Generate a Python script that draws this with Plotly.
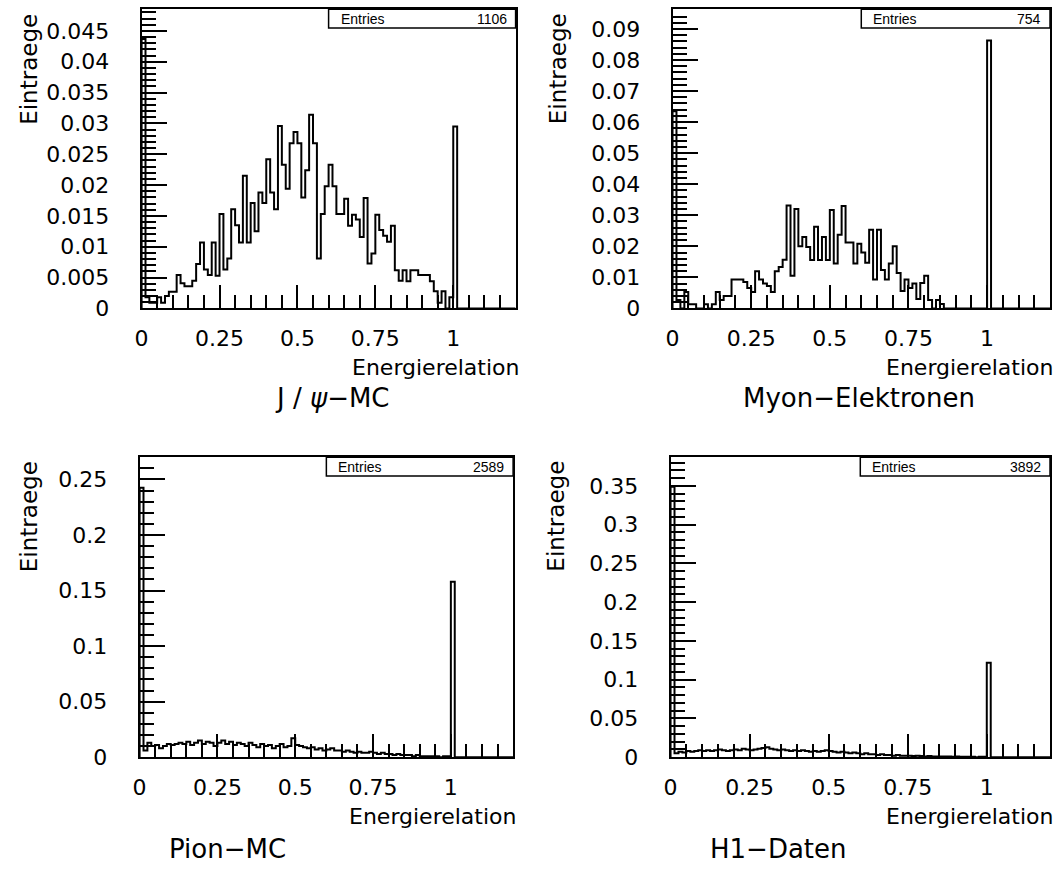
import numpy as np
import plotly.graph_objects as go

# Histogram binning: 96 bins on [0, 1.2]
n_bins = 96
x_lo, x_hi = 0.0, 1.2

titles = ["J / <i>\u03c8</i>\u2212MC", "Myon\u2212Elektronen", "Pion\u2212MC", "H1\u2212Daten"]
entries = [1106, 754, 2589, 3892]

jpsi_mc = [
    0.0437, 0.0018, 0.0009, 0.0009, 0.0018, 0.0009, 0.0020, 0.0027, 0.0027, 0.0054,
    0.0041, 0.0036, 0.0036, 0.0045, 0.0072, 0.0107, 0.0063, 0.0054, 0.0107, 0.0053,
    0.0153, 0.0063, 0.0081, 0.0161, 0.0135, 0.0107, 0.0215, 0.0107, 0.0171, 0.0125,
    0.0188, 0.0171, 0.0242, 0.0188, 0.0161, 0.0296, 0.0233, 0.0194, 0.0268, 0.0286,
    0.0268, 0.0180, 0.0224, 0.0314, 0.0268, 0.0081, 0.0153, 0.0198, 0.0233, 0.0198,
    0.0153, 0.0153, 0.0178, 0.0134, 0.0152, 0.0144, 0.0116, 0.0179, 0.0073, 0.0089,
    0.0152, 0.0127, 0.0118, 0.0108, 0.0134, 0.0062, 0.0045, 0.0062, 0.0044, 0.0062,
    0.0062, 0.0054, 0.0054, 0.0054, 0.0044, 0.0028, 0.0009, 0.0028, 0.0, 0.0018,
    0.0295,
]

myon_elektronen = [
    0.0635, 0.0027, 0.0, 0.0053, 0.0013, 0.0013, 0.0, 0.0, 0.0013, 0.0,
    0.0013, 0.0053, 0.0027, 0.0040, 0.0040, 0.0093, 0.0093, 0.0093, 0.0085, 0.0066,
    0.0053, 0.0120, 0.0093, 0.0080, 0.0072, 0.0053, 0.0120, 0.0133, 0.0157, 0.0331,
    0.0105, 0.0320, 0.0200, 0.0230, 0.0198, 0.0156, 0.0263, 0.0156, 0.0230, 0.0156,
    0.0317, 0.0145, 0.0237, 0.0330, 0.0212, 0.0212, 0.0145, 0.0208, 0.0180, 0.0147,
    0.0253, 0.0093, 0.0253, 0.0124, 0.0093, 0.0145, 0.0200, 0.0114, 0.0056, 0.0093,
    0.0066, 0.0080, 0.0030, 0.0082, 0.0105, 0.0027, 0.0, 0.0027, 0.0014, 0.0,
    0.0, 0.0, 0.0, 0.0, 0.0, 0.0, 0.0, 0.0, 0.0, 0.0,
    0.0863,
]

pion_mc = [
    0.2425, 0.0060, 0.0130, 0.0100, 0.0110, 0.0080, 0.0100, 0.0120, 0.0110, 0.0120,
    0.0130, 0.0120, 0.0140, 0.0110, 0.0130, 0.0150, 0.0120, 0.0140, 0.0130, 0.0100,
    0.0130, 0.0150, 0.0120, 0.0140, 0.0110, 0.0130, 0.0120, 0.0100, 0.0130, 0.0110,
    0.0090, 0.0120, 0.0100, 0.0110, 0.0080, 0.0100, 0.0120, 0.0090, 0.0100, 0.0170,
    0.0110, 0.0100, 0.0090, 0.0080, 0.0090, 0.0070, 0.0080, 0.0060, 0.0070, 0.0080,
    0.0060, 0.0060, 0.0050, 0.0060, 0.0050, 0.0040, 0.0050, 0.0040, 0.0040, 0.0050,
    0.0040, 0.0030, 0.0040, 0.0030, 0.0030, 0.0020, 0.0030, 0.0020, 0.0020, 0.0020,
    0.0010, 0.0020, 0.0010, 0.0010, 0.0010, 0.0010, 0.0010, 0.0, 0.0010, 0.0010,
    0.1580,
]

h1_daten = [
    0.3490, 0.0050, 0.0070, 0.0060, 0.0080, 0.0070, 0.0080, 0.0090, 0.0080, 0.0090,
    0.0080, 0.0090, 0.0100, 0.0090, 0.0080, 0.0090, 0.0100, 0.0090, 0.0110, 0.0100,
    0.0090, 0.0100, 0.0110, 0.0120, 0.0130, 0.0110, 0.0100, 0.0090, 0.0100, 0.0090,
    0.0080, 0.0090, 0.0080, 0.0090, 0.0080, 0.0070, 0.0080, 0.0070, 0.0080, 0.0090,
    0.0080, 0.0070, 0.0060, 0.0070, 0.0060, 0.0050, 0.0060, 0.0050, 0.0040, 0.0050,
    0.0040, 0.0040, 0.0030, 0.0040, 0.0030, 0.0030, 0.0020, 0.0030, 0.0020, 0.0020,
    0.0020, 0.0015, 0.0020, 0.0015, 0.0010, 0.0015, 0.0010, 0.0010, 0.0010, 0.0008,
    0.0008, 0.0005, 0.0008, 0.0005, 0.0005, 0.0005, 0.0005, 0.0, 0.0005, 0.0005,
    0.1220,
]

series = [jpsi_mc, myon_elektronen, pion_mc, h1_daten]

# Panel geometry in pixels (frame left, right, top, bottom)
W, H = 1053, 887
frames = [
    (135.5, 512.0, 9.5, 313.0),
    (670.0, 1050.0, 9.5, 313.0),
    (133.5, 509.5, 464.0, 768.5),
    (668.0, 1050.0, 464.0, 768.5),
]
y_tops = [0.0485, 0.0963, 0.270, 0.387]
y_major = [0.005, 0.01, 0.05, 0.05]
y_minor = [0.001, 0.002, 0.01, 0.01]
ylab_pos = [(22, 70), (555, 70), (22, 524), (553, 524)]
title_pos = [(328, 404), (858, 404), (222, 862), (777, 862)]

FONT = "DejaVu Sans"
fig = go.Figure()
edges = np.linspace(x_lo, x_hi, n_bins + 1)

for k, vals in enumerate(series):
    v = np.zeros(n_bins)
    v[: len(vals)] = vals
    xs = np.concatenate([[edges[0]], edges[:-1], [edges[-1]]])
    ys = np.concatenate([[0.0], v, [0.0]])
    xa = "x" if k == 0 else f"x{k + 1}"
    ya = "y" if k == 0 else f"y{k + 1}"
    fig.add_trace(go.Scatter(
        x=xs, y=ys, mode="lines", line=dict(color="black", width=2, shape="hv"),
        xaxis=xa, yaxis=ya, showlegend=False, hoverinfo="skip",
    ))

    fl, fr, ft, fb = frames[k]
    sfx = "" if k == 0 else str(k + 1)
    fig.layout["xaxis" + sfx] = dict(
        domain=[fl / W, fr / W], anchor=ya, range=[x_lo, x_hi],
        tickmode="linear", tick0=0, dtick=0.25,
        ticks="inside", ticklen=23, tickwidth=1.5, tickcolor="black",
        minor=dict(ticks="inside", tick0=0, dtick=0.05, ticklen=13,
                   tickwidth=1.5, tickcolor="black", showgrid=False),
        showline=True, mirror=True, linecolor="black", linewidth=2,
        showgrid=False, zeroline=False, ticklabelstandoff=9,
        tickfont=dict(family=FONT, size=22, color="black"),
    )
    fig.layout["yaxis" + sfx] = dict(
        domain=[1 - fb / H, 1 - ft / H], anchor=xa, range=[0, y_tops[k]],
        tickmode="linear", tick0=0, dtick=y_major[k],
        ticks="inside", ticklen=25, tickwidth=1.5, tickcolor="black",
        minor=dict(ticks="inside", tick0=0, dtick=y_minor[k], ticklen=14,
                   tickwidth=1.5, tickcolor="black", showgrid=False),
        showline=True, mirror=True, linecolor="black", linewidth=2,
        showgrid=False, zeroline=False, ticklabelstandoff=26,
        tickfont=dict(family=FONT, size=22, color="black"),
    )

    # statistics box
    bx0 = (fl + fr) / 2
    fig.add_shape(type="rect", xref="paper", yref="paper",
                  x0=bx0 / W, x1=fr / W, y0=1 - (ft + 19) / H, y1=1 - ft / H,
                  line=dict(color="black", width=1.5), fillcolor="white")
    fig.add_annotation(text="Entries", xref="paper", yref="paper",
                       x=(bx0 + 10) / W, y=1 - (ft + 9.5) / H,
                       xanchor="left", yanchor="middle", showarrow=False,
                       font=dict(family="Liberation Sans", size=14, color="black"))
    fig.add_annotation(text=str(entries[k]), xref="paper", yref="paper",
                       x=(fr - 7) / W, y=1 - (ft + 9.5) / H,
                       xanchor="right", yanchor="middle", showarrow=False,
                       font=dict(family="Liberation Sans", size=14, color="black"))

    # axis titles
    fig.add_annotation(text="Energierelation", xref="paper", yref="paper",
                       x=(fr + 5) / W, y=1 - (fb + 60) / H,
                       xanchor="right", yanchor="middle", showarrow=False,
                       font=dict(family=FONT, size=22, color="black"))
    lx, ly = ylab_pos[k]
    fig.add_annotation(text="Eintraege", xref="paper", yref="paper",
                       x=lx / W, y=1 - ly / H, textangle=-90,
                       xanchor="center", yanchor="middle", showarrow=False,
                       font=dict(family=FONT, size=23, color="black"))
    tx, ty = title_pos[k]
    fig.add_annotation(text=titles[k], xref="paper", yref="paper",
                       x=tx / W, y=1 - ty / H,
                       xanchor="center", yanchor="middle", showarrow=False,
                       font=dict(family=FONT, size=26, color="black"))

fig.update_layout(
    width=W, height=H, margin=dict(l=0, r=0, t=0, b=0),
    paper_bgcolor="white", plot_bgcolor="white", showlegend=False,
)

fig.write_html("out.html")
